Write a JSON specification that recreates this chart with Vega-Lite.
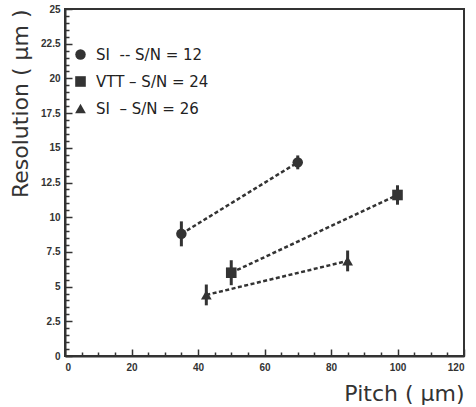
{
  "$schema": "https://vega.github.io/schema/vega-lite/v6.json",
  "width": 399,
  "height": 347,
  "autosize": {"type": "none"},
  "padding": {"left": 65, "top": 9, "right": 12, "bottom": 51},
  "background": "white",
  "data": {
    "values": [
      {"series": "SI\u00a0\u00a0-- S/N = 12", "pitch": 35, "res": 8.8, "lo": 7.9, "hi": 9.7},
      {"series": "SI\u00a0\u00a0-- S/N = 12", "pitch": 70, "res": 13.95, "lo": 13.45, "hi": 14.45},
      {"series": "VTT \u2013 S/N = 24", "pitch": 50, "res": 6.0, "lo": 5.1, "hi": 6.9},
      {"series": "VTT \u2013 S/N = 24", "pitch": 100, "res": 11.6, "lo": 10.9, "hi": 12.3},
      {"series": "SI\u00a0\u00a0\u2013 S/N = 26", "pitch": 42.5, "res": 4.4, "lo": 3.65, "hi": 5.15},
      {"series": "SI\u00a0\u00a0\u2013 S/N = 26", "pitch": 85, "res": 6.85, "lo": 6.1, "hi": 7.6}
    ]
  },
  "config": {
    "view": {"stroke": "#333", "strokeWidth": 2},
    "axis": {
      "grid": false,
      "domainColor": "#333",
      "domainWidth": 2,
      "tickColor": "#333",
      "labelFont": "Liberation Sans",
      "labelFontWeight": "bold",
      "labelFontSize": 10,
      "labelColor": "#333",
      "titleFont": "DejaVu Sans",
      "titleFontWeight": "normal",
      "titleFontSize": 22,
      "titleColor": "#333"
    },
    "legend": {
      "orient": "none",
      "legendX": 8,
      "legendY": 38,
      "padding": 0,
      "labelFont": "DejaVu Sans",
      "labelFontSize": 15,
      "labelColor": "#222",
      "labelOffset": 8,
      "rowPadding": 11,
      "symbolFillColor": "#333",
      "symbolStrokeColor": "#333",
      "symbolStrokeWidth": 0
    }
  },
  "resolve": {"axis": {"x": "independent", "y": "independent"}},
  "layer": [
    {
      "mark": {"type": "line", "strokeDash": [4, 2.5], "strokeWidth": 2.5, "color": "#333"},
      "encoding": {
        "x": {
          "field": "pitch", "type": "quantitative",
          "scale": {"domain": [0, 120], "nice": false, "zero": false},
          "axis": {
            "orient": "bottom",
            "values": [0, 20, 40, 60, 80, 100, 120],
            "labelExpr": "'' + datum.value",
            "tickSize": -7,
            "tickWidth": 1.5,
            "labelPadding": 13,
            "title": "Pitch ( \u03bcm)",
            "titleAnchor": "end",
            "titleBaseline": "alphabetic",
            "titleY": 44
          }
        },
        "y": {
          "field": "res", "type": "quantitative",
          "scale": {"domain": [0, 25], "nice": false, "zero": false},
          "axis": {
            "orient": "left",
            "values": [0, 2.5, 5, 7.5, 10, 12.5, 15, 17.5, 20, 22.5, 25],
            "labelExpr": "'' + datum.value",
            "tickSize": -7,
            "tickWidth": 1.5,
            "labelPadding": 12,
            "title": "Resolution ( \u03bcm )",
            "titleAnchor": "end",
            "titleX": -33
          }
        },
        "detail": {"field": "series"}
      }
    },
    {
      "mark": {"type": "rule", "strokeWidth": 3, "color": "#333"},
      "encoding": {
        "x": {
          "field": "pitch", "type": "quantitative",
          "axis": {
            "orient": "bottom",
            "values": [5, 10, 15, 25, 30, 35, 45, 50, 55, 65, 70, 75, 85, 90, 95, 105, 110, 115],
            "labels": false,
            "domain": false,
            "tickSize": -4,
            "tickWidth": 1.5,
            "title": null
          }
        },
        "y": {
          "field": "lo", "type": "quantitative",
          "axis": {
            "orient": "left",
            "values": [0.5, 1, 1.5, 2, 3, 3.5, 4, 4.5, 5.5, 6, 6.5, 7, 8, 8.5, 9, 9.5, 10.5, 11, 11.5, 12, 13, 13.5, 14, 14.5, 15.5, 16, 16.5, 17, 18, 18.5, 19, 19.5, 20.5, 21, 21.5, 22, 23, 23.5, 24, 24.5],
            "labels": false,
            "domain": false,
            "tickSize": -4,
            "tickWidth": 1.5,
            "title": null
          }
        },
        "y2": {"field": "hi"}
      }
    },
    {
      "mark": {"type": "point", "filled": true, "opacity": 1, "color": "#333"},
      "encoding": {
        "x": {"field": "pitch", "type": "quantitative", "axis": null},
        "y": {"field": "res", "type": "quantitative", "axis": null},
        "shape": {
          "field": "series", "type": "nominal",
          "scale": {
            "domain": ["SI\u00a0\u00a0-- S/N = 12", "VTT \u2013 S/N = 24", "SI\u00a0\u00a0\u2013 S/N = 26"],
            "range": ["circle", "square", "triangle-up"]
          },
          "legend": {
            "title": null,
            "encode": {"symbols": {"update": {"size": {"value": 65}}}}
          }
        },
        "size": {
          "field": "series", "type": "nominal",
          "scale": {
            "domain": ["SI\u00a0\u00a0-- S/N = 12", "VTT \u2013 S/N = 24", "SI\u00a0\u00a0\u2013 S/N = 26"],
            "range": [110, 115, 150]
          },
          "legend": {
            "title": null,
            "encode": {"symbols": {"update": {"size": {"value": 65}}}}
          }
        }
      }
    }
  ]
}
